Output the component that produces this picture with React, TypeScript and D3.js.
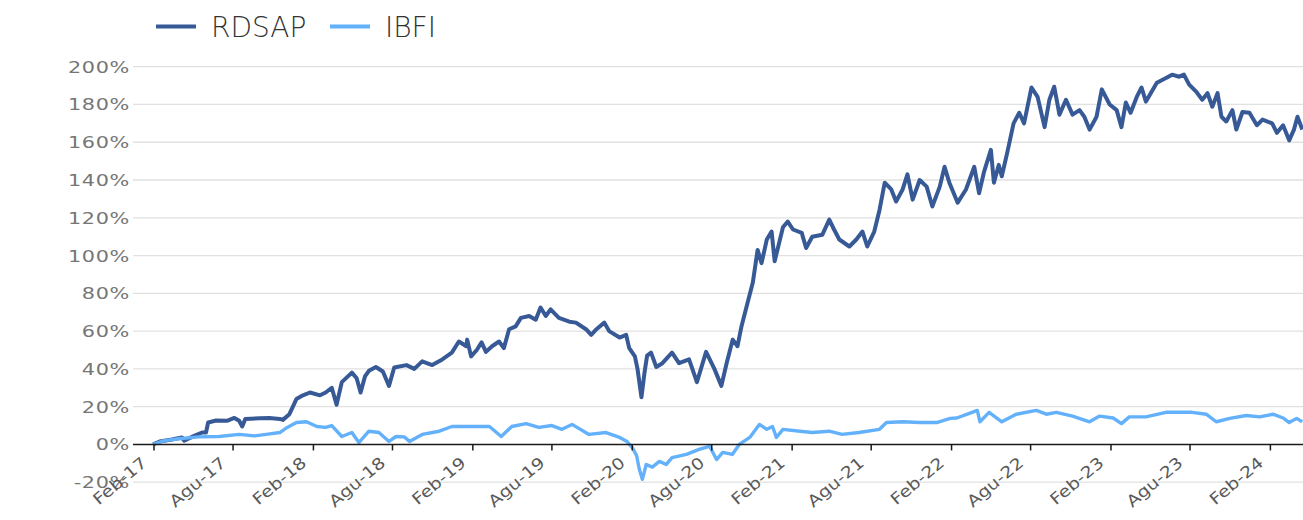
import React from 'react';
import * as d3 from 'd3';

const seriesNames = ['RDSAP', 'IBFI'];
const seriesColors = ['#375A97', '#64B1FB'];

const yTicks = [-20, 0, 20, 40, 60, 80, 100, 120, 140, 160, 180, 200];
const xTickDates = ['2017-02-01', '2017-08-01', '2018-02-01', '2018-08-01', '2019-02-01', '2019-08-01', '2020-02-01', '2020-08-01', '2021-02-01', '2021-08-01', '2022-02-01', '2022-08-01', '2023-02-01', '2023-08-01', '2024-02-01'];
const xTickLabels = ['Feb-17', 'Agu-17', 'Feb-18', 'Agu-18', 'Feb-19', 'Agu-19', 'Feb-20', 'Agu-20', 'Feb-21', 'Agu-21', 'Feb-22', 'Agu-22', 'Feb-23', 'Agu-23', 'Feb-24'];

const rdsap: [string, number][] = [
  ['2017-01-30', 0], ['2017-02-14', 1.5], ['2017-03-14', 2.6], ['2017-04-06', 3.7], ['2017-04-11', 2],
  ['2017-05-04', 4.5], ['2017-05-22', 6.3], ['2017-05-31', 6.3], ['2017-06-05', 11.6], ['2017-06-23', 12.7],
  ['2017-07-18', 12.5], ['2017-08-04', 14], ['2017-08-15', 12.5], ['2017-08-22', 9.5], ['2017-08-29', 13.5],
  ['2017-10-01', 13.8], ['2017-10-23', 14], ['2017-11-16', 13.5], ['2017-11-23', 13], ['2017-12-08', 16],
  ['2017-12-24', 24], ['2018-01-08', 26], ['2018-01-24', 27.5], ['2018-02-16', 26], ['2018-03-01', 27.5],
  ['2018-03-15', 30], ['2018-03-26', 21], ['2018-04-07', 33], ['2018-04-30', 38], ['2018-05-11', 35],
  ['2018-05-20', 27.5], ['2018-05-30', 36], ['2018-06-08', 39], ['2018-06-24', 41], ['2018-07-10', 38.6],
  ['2018-07-24', 31], ['2018-08-05', 40.7], ['2018-09-02', 42], ['2018-09-20', 40], ['2018-10-08', 44],
  ['2018-10-31', 42], ['2018-11-23', 45], ['2018-12-15', 48.6], ['2018-12-31', 54.5], ['2019-01-17', 52],
  ['2019-01-19', 55.5], ['2019-01-28', 46.6], ['2019-02-10', 50], ['2019-02-21', 54], ['2019-03-03', 49],
  ['2019-03-17', 52], ['2019-04-02', 54.5], ['2019-04-13', 51], ['2019-04-25', 61], ['2019-05-10', 62.5],
  ['2019-05-22', 67], ['2019-06-10', 68], ['2019-06-25', 66], ['2019-07-06', 72.5], ['2019-07-18', 68],
  ['2019-07-29', 71.5], ['2019-08-17', 67], ['2019-09-10', 65], ['2019-09-25', 64.5], ['2019-10-18', 61],
  ['2019-10-30', 58], ['2019-11-11', 61], ['2019-11-29', 64.5], ['2019-12-10', 60], ['2020-01-03', 56.6],
  ['2020-01-18', 58], ['2020-01-25', 51], ['2020-02-07', 46.6], ['2020-02-13', 40], ['2020-02-22', 25],
  ['2020-02-29', 38], ['2020-03-06', 47], ['2020-03-15', 48.6], ['2020-03-27', 41], ['2020-04-10', 43],
  ['2020-05-02', 48.6], ['2020-05-18', 43], ['2020-06-10', 45], ['2020-06-28', 33], ['2020-07-19', 49],
  ['2020-08-07', 40], ['2020-08-23', 31], ['2020-09-04', 43], ['2020-09-18', 55.5], ['2020-09-29', 52],
  ['2020-10-08', 62.5], ['2020-10-22', 75], ['2020-11-03', 85.7], ['2020-11-14', 103], ['2020-11-23', 96],
  ['2020-12-05', 108.5], ['2020-12-16', 112.7], ['2020-12-23', 97], ['2021-01-11', 115], ['2021-01-22', 118],
  ['2021-02-03', 113.8], ['2021-02-23', 112], ['2021-03-05', 104], ['2021-03-19', 110], ['2021-04-11', 111],
  ['2021-04-27', 119], ['2021-05-08', 113.8], ['2021-05-20', 108.5], ['2021-06-12', 104.8], ['2021-06-28', 108.5],
  ['2021-07-12', 112.7], ['2021-07-23', 104.8], ['2021-08-08', 112.7], ['2021-08-20', 124], ['2021-09-01', 138.6],
  ['2021-09-16', 135], ['2021-09-27', 128.6], ['2021-10-12', 135], ['2021-10-23', 143], ['2021-11-04', 129.6],
  ['2021-11-20', 140], ['2021-12-06', 136.5], ['2021-12-19', 126], ['2022-01-05', 136.5], ['2022-01-16', 147],
  ['2022-01-27', 138.6], ['2022-02-15', 128], ['2022-03-06', 135], ['2022-03-25', 147], ['2022-04-05', 133],
  ['2022-04-16', 144], ['2022-05-02', 156], ['2022-05-09', 138.6], ['2022-05-20', 148], ['2022-05-27', 142],
  ['2022-06-08', 154], ['2022-06-23', 170], ['2022-07-06', 175.6], ['2022-07-17', 170], ['2022-08-03', 189],
  ['2022-08-17', 184], ['2022-09-02', 168], ['2022-09-13', 182.5], ['2022-09-24', 189.4], ['2022-10-06', 174.6],
  ['2022-10-21', 182.5], ['2022-11-05', 174.6], ['2022-11-21', 177], ['2022-12-02', 173.5], ['2022-12-14', 166.7],
  ['2022-12-30', 173.5], ['2023-01-11', 188], ['2023-01-29', 180], ['2023-02-14', 177], ['2023-02-25', 168],
  ['2023-03-07', 181], ['2023-03-18', 175.6], ['2023-04-01', 184], ['2023-04-12', 189], ['2023-04-22', 181.5],
  ['2023-05-03', 186], ['2023-05-17', 191.5], ['2023-06-07', 194], ['2023-06-21', 195.8], ['2023-07-07', 194.7],
  ['2023-07-18', 195.8], ['2023-07-30', 190.5], ['2023-08-15', 186.8], ['2023-08-29', 182.5], ['2023-09-10', 186],
  ['2023-09-21', 178.8], ['2023-10-03', 186], ['2023-10-12', 173.5], ['2023-10-23', 171], ['2023-11-06', 177],
  ['2023-11-15', 166.7], ['2023-11-29', 176], ['2023-12-15', 175.6], ['2024-01-01', 169], ['2024-01-14', 172],
  ['2024-02-05', 170], ['2024-02-16', 165], ['2024-03-01', 169], ['2024-03-15', 161], ['2024-03-26', 166.7],
  ['2024-04-03', 173.5], ['2024-04-14', 166.7],
];

const ibfi: [string, number][] = [
  ['2017-01-30', 0], ['2017-02-25', 2], ['2017-03-30', 3], ['2017-05-14', 4], ['2017-06-30', 4.2],
  ['2017-08-15', 5.3], ['2017-09-19', 4.5], ['2017-10-16', 5.3], ['2017-11-16', 6.3], ['2017-12-03', 9],
  ['2017-12-24', 11.6], ['2018-01-16', 12], ['2018-02-09', 9.5], ['2018-03-01', 9], ['2018-03-15', 10],
  ['2018-04-07', 4.2], ['2018-04-30', 6.3], ['2018-05-16', 1], ['2018-06-08', 7], ['2018-07-01', 6.3],
  ['2018-07-24', 1.6], ['2018-08-09', 4.2], ['2018-08-28', 4], ['2018-09-09', 1.6], ['2018-10-08', 5.3],
  ['2018-11-16', 7], ['2018-12-15', 9.5], ['2019-02-01', 9.5], ['2019-03-11', 9.5], ['2019-04-07', 4.2],
  ['2019-05-01', 9.5], ['2019-06-03', 11], ['2019-07-02', 9], ['2019-08-01', 10], ['2019-08-24', 8],
  ['2019-09-16', 10.6], ['2019-10-25', 5.3], ['2019-12-03', 6.3], ['2020-01-03', 3.7], ['2020-01-20', 1.5],
  ['2020-02-02', -2], ['2020-02-11', -6], ['2020-02-17', -13], ['2020-02-24', -18.5], ['2020-03-04', -10.6],
  ['2020-03-18', -12], ['2020-04-03', -9], ['2020-04-19', -10.6], ['2020-05-02', -7], ['2020-06-04', -5.3],
  ['2020-07-03', -2.6], ['2020-07-27', -1], ['2020-08-12', -8], ['2020-08-26', -4.2], ['2020-09-17', -5.3],
  ['2020-10-03', 0], ['2020-10-27', 3.7], ['2020-11-18', 10.6], ['2020-12-05', 8], ['2020-12-18', 9.5],
  ['2020-12-27', 3.7], ['2021-01-11', 8], ['2021-02-19', 7], ['2021-03-19', 6.3], ['2021-04-27', 7],
  ['2021-05-26', 5.3], ['2021-07-04', 6.3], ['2021-08-20', 8], ['2021-09-05', 11.6], ['2021-10-12', 12],
  ['2021-11-20', 11.6], ['2021-12-29', 11.6], ['2022-01-29', 13.8], ['2022-02-13', 14], ['2022-03-20', 17],
  ['2022-04-01', 18], ['2022-04-07', 12], ['2022-04-28', 17], ['2022-05-27', 12], ['2022-06-29', 16],
  ['2022-08-14', 18], ['2022-09-06', 16], ['2022-09-29', 17], ['2022-11-05', 15], ['2022-12-14', 12],
  ['2023-01-06', 15], ['2023-02-06', 14], ['2023-02-25', 11], ['2023-03-15', 14.6], ['2023-04-22', 14.6],
  ['2023-06-07', 17], ['2023-08-06', 17], ['2023-09-07', 16], ['2023-09-30', 12], ['2023-10-31', 13.8],
  ['2023-12-08', 15.3], ['2024-01-07', 14.6], ['2024-02-07', 16], ['2024-03-01', 14], ['2024-03-15', 11.6],
  ['2024-04-01', 13.8], ['2024-04-14', 12],
];

const W = 1303;
const H = 520;

export default function App() {
  const parse = (s: string) => new Date(s + 'T00:00:00Z');
  const x = d3.scaleUtc()
    .domain([parse('2017-02-01'), parse('2024-02-01')])
    .range([154, 1270.4]);
  const y = d3.scaleLinear().domain([-20, 200]).range([482.2, 66.7]);

  const line = d3.line<[string, number]>()
    .x(d => x(parse(d[0])))
    .y(d => y(d[1]))
    .curve(d3.curveLinear);

  const series = [rdsap, ibfi];
  const fontFam = '"DejaVu Sans", sans-serif';

  return (
    <svg width={W} height={H} style={{ position: 'absolute', left: 0, top: 0, background: '#fff' }}>
      <rect x={0} y={0} width={W} height={H} fill="#ffffff" />
      {yTicks.filter(t => t !== 0).map(t => (
        <line key={t} x1={133} x2={W} y1={y(t)} y2={y(t)} stroke="#e1e1e1" strokeWidth={1.3} />
      ))}
      {yTicks.map(t => (
        <text key={'yl' + t} transform={`translate(130,${y(t) + 6}) scale(1.3,1)`} textAnchor="end"
          fontFamily={fontFam} fontSize={16} letterSpacing={0.5} fill="#767676">{t + '%'}</text>
      ))}
      {series.map((s, i) => (
        <path key={seriesNames[i]} d={line(s) || ''} fill="none" stroke={seriesColors[i]}
          strokeWidth={i === 0 ? 4 : 3.4} strokeLinejoin="round" />
      ))}
      <line x1={133} x2={W} y1={y(0)} y2={y(0)} stroke="#1a1a1a" strokeWidth={1.5} />
      {xTickDates.map((d, i) => {
        const xx = x(parse(d));
        return (
          <g key={d}>
            <line x1={xx} x2={xx} y1={y(0)} y2={y(0) + 6} stroke="#1a1a1a" strokeWidth={1.5} />
            <text transform={`translate(${xx - 6},${y(0) + 20}) rotate(-40) scale(1.18,1)`} textAnchor="end"
              fontFamily={fontFam} fontSize={16} fill="#595959">{xTickLabels[i]}</text>
          </g>
        );
      })}
      {seriesNames.map((n, i) => {
        const lx = i === 0 ? 156 : 330;
        return (
          <g key={'lg' + n}>
            <line x1={lx} x2={lx + 40} y1={26.5} y2={26.5} stroke={seriesColors[i]} strokeWidth={4} />
            <text x={lx + 55} y={37} fontFamily={fontFam} fontWeight={200} fontSize={28} fill="#333333">{n}</text>
          </g>
        );
      })}
    </svg>
  );
}
